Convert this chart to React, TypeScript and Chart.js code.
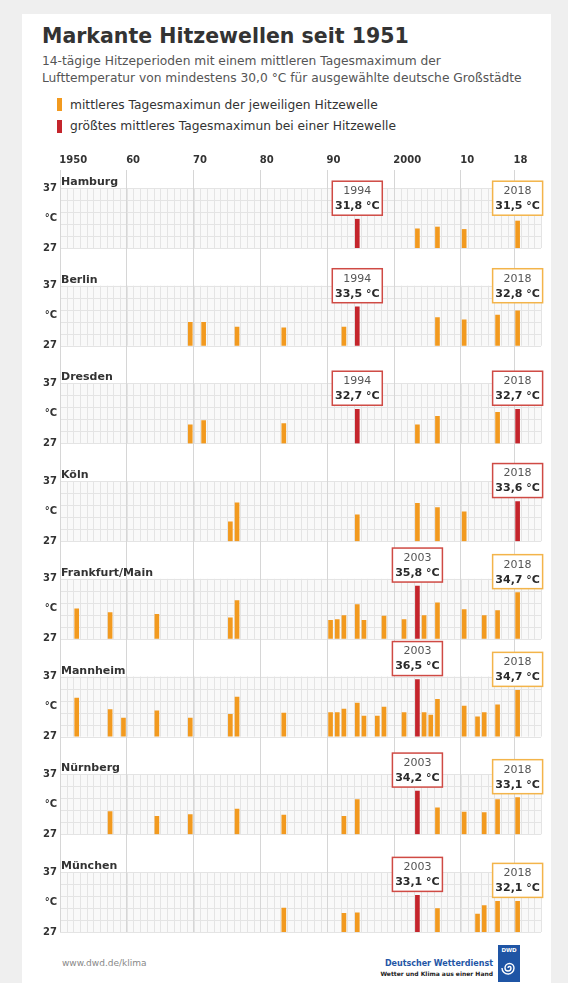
import React, { useEffect, useRef } from 'react';
import { Chart, registerables } from 'chart.js';

Chart.register(...registerables);

const FONT = '"DejaVu Sans", Verdana, sans-serif';
const ORANGE = '#f29a1f';
const RED = '#c4252c';
const BOX_ORANGE = '#f3b44a';
const BOX_RED = '#cf4a44';

// ---------- data ----------
const FIRST_YEAR = 1950;
const LAST_YEAR = 2021;
const tickYears = [1950, 1960, 1970, 1980, 1990, 2000, 2010, 2018];
const tickLabels = ['1950', '60', '70', '80', '90', '2000', '10', '18'];
const yTicks = [27, 32, 37];
const yTickLabels = ['27', '°C', '37'];
const bandLines = [27, 29, 31, 33, 35, 37];

const cityNames = ['Hamburg', 'Berlin', 'Dresden', 'Köln', 'Frankfurt/Main', 'Mannheim', 'Nürnberg', 'München'];

const hamburgYears = [1994, 2003, 2006, 2010, 2018];
const hamburgTemps = [31.8, 30.2, 30.5, 30.1, 31.5];
const berlinYears = [1969, 1971, 1976, 1983, 1992, 1994, 2006, 2010, 2015, 2018];
const berlinTemps = [30.9, 30.9, 30.1, 30.0, 30.1, 33.5, 31.7, 31.3, 32.1, 32.8];
const dresdenYears = [1969, 1971, 1983, 1994, 2003, 2006, 2015, 2018];
const dresdenTemps = [30.1, 30.8, 30.3, 32.7, 30.1, 31.5, 32.2, 32.7];
const koelnYears = [1975, 1976, 1994, 2003, 2006, 2010, 2018];
const koelnTemps = [30.2, 33.4, 31.4, 33.3, 32.6, 31.9, 33.6];
const frankfurtYears = [1952, 1957, 1964, 1975, 1976, 1990, 1991, 1992, 1994, 1995, 1998, 2001, 2003, 2004, 2006, 2010, 2013, 2015, 2018];
const frankfurtTemps = [32.0, 31.4, 31.1, 30.5, 33.4, 30.1, 30.2, 30.9, 32.7, 30.1, 30.8, 30.2, 35.8, 30.9, 33.0, 31.9, 30.9, 31.7, 34.7];
const mannheimYears = [1952, 1957, 1959, 1964, 1969, 1975, 1976, 1983, 1990, 1991, 1992, 1994, 1995, 1997, 1998, 2001, 2003, 2004, 2005, 2006, 2010, 2012, 2013, 2015, 2018];
const mannheimTemps = [33.4, 31.5, 30.1, 31.3, 30.1, 30.7, 33.6, 30.9, 31.0, 31.0, 31.6, 32.6, 30.4, 30.4, 31.9, 31.0, 36.5, 31.0, 30.6, 33.2, 32.1, 30.3, 31.0, 32.3, 34.7];
const nuernbergYears = [1957, 1964, 1969, 1976, 1983, 1992, 1994, 2003, 2006, 2010, 2013, 2015, 2018];
const nuernbergTemps = [30.8, 30.0, 30.3, 31.2, 30.2, 30.0, 32.8, 34.2, 31.4, 30.7, 30.6, 32.8, 33.1];
const muenchenYears = [1983, 1992, 1994, 2003, 2006, 2012, 2013, 2015, 2018];
const muenchenTemps = [31.0, 30.1, 30.2, 33.1, 30.9, 30.0, 31.4, 32.1, 32.1];

const cityYears = [hamburgYears, berlinYears, dresdenYears, koelnYears, frankfurtYears, mannheimYears, nuernbergYears, muenchenYears];
const cityTemps = [hamburgTemps, berlinTemps, dresdenTemps, koelnTemps, frankfurtTemps, mannheimTemps, nuernbergTemps, muenchenTemps];
const recordYears = [[1994], [1994], [1994, 2018], [2018], [2003], [2003], [2003], [2003]];
const CURRENT_YEAR = 2018;

// panel value ranges (top panel shares its space with the x axis)
const panelMax = [40, 43.28, 43.28, 43.28, 43.28, 43.28, 43.28, 43.28];

const yearLabels: string[] = [];
for (let y = FIRST_YEAR; y <= LAST_YEAR; y++) yearLabels.push(String(y));

const fmt = (v: number) => v.toFixed(1).replace('.', ',') + ' °C';

// ---------- plugins ----------
const bandPlugin = {
  id: 'bands',
  beforeDraw(chart: any) {
    const { ctx, chartArea } = chart;
    const xs = chart.scales.x;
    const n = yearLabels.length;
    const col = (chartArea.right - chartArea.left) / n;
    ctx.save();
    cityNames.forEach((_, i) => {
      const ys = chart.scales['y' + i];
      const top = ys.getPixelForValue(37);
      const bottom = ys.getPixelForValue(27);
      ctx.fillStyle = '#f9f9f9';
      ctx.fillRect(chartArea.left, top, chartArea.right - chartArea.left, bottom - top);
      ctx.strokeStyle = '#e4e4e4';
      ctx.lineWidth = 1;
      ctx.beginPath();
      for (let k = 0; k <= n; k++) {
        const x = Math.round(xs.getPixelForValue(k) - col / 2) + 0.5;
        ctx.moveTo(x, top);
        ctx.lineTo(x, bottom);
      }
      for (const v of bandLines) {
        const y = Math.round(ys.getPixelForValue(v)) + 0.5;
        ctx.moveTo(chartArea.left, y);
        ctx.lineTo(chartArea.right, y);
      }
      ctx.stroke();
    });
    ctx.restore();
  },
};

const annotationPlugin = {
  id: 'annotations',
  afterDatasetsDraw(chart: any) {
    const { ctx, chartArea } = chart;
    const xs = chart.scales.x;
    ctx.save();
    cityNames.forEach((name, i) => {
      const ys = chart.scales['y' + i];
      ctx.font = 'bold 11px ' + FONT;
      ctx.fillStyle = '#333';
      ctx.textAlign = 'left';
      ctx.textBaseline = 'alphabetic';
      ctx.fillText(name, chartArea.left + 1, ys.getPixelForValue(37) - 3);

      const years = cityYears[i];
      const temps = cityTemps[i];
      const boxYears = [...recordYears[i]];
      if (!boxYears.includes(CURRENT_YEAR)) boxYears.push(CURRENT_YEAR);
      const vals = boxYears.map((y) => temps[years.indexOf(y)]);
      const hi = Math.max(...vals);
      const lo = Math.min(...vals);
      boxYears.forEach((yr, k) => {
        const v = vals[k];
        const anchor = hi - lo < 1 ? hi : v;
        const isRecord = recordYears[i].includes(yr);
        const cx = xs.getPixelForValue(yearLabels.indexOf(String(yr)));
        const w = 50;
        const h = 34;
        const bottom = ys.getPixelForValue(anchor) - 4;
        const top = bottom - h;
        ctx.fillStyle = '#fff';
        ctx.fillRect(cx - w / 2, top, w, h);
        ctx.strokeStyle = isRecord ? BOX_RED : BOX_ORANGE;
        ctx.lineWidth = 1.5;
        ctx.strokeRect(cx - w / 2, top, w, h);
        ctx.textAlign = 'center';
        ctx.textBaseline = 'middle';
        ctx.fillStyle = '#555';
        ctx.font = '11px ' + FONT;
        ctx.fillText(String(yr), cx, top + 10);
        ctx.fillStyle = '#2a2a2a';
        ctx.font = 'bold 11px ' + FONT;
        ctx.fillText(fmt(v), cx, top + 25);
      });
    });
    ctx.restore();
  },
};

export default function App() {
  const ref = useRef<HTMLCanvasElement>(null);

  useEffect(() => {
    const canvas = ref.current;
    if (!canvas) return;

    const scales: any = {
      x: {
        type: 'category',
        position: 'top',
        labels: yearLabels,
        offset: true,
        grid: {
          offset: true,
          drawTicks: false,
          lineWidth: 1,
          color: (c: any) => {
            if (c.index === undefined || c.tick === undefined) return 'rgba(0,0,0,0)';
            return tickYears.includes(FIRST_YEAR + c.index) ? '#d6d6d6' : 'rgba(0,0,0,0)';
          },
        },
        border: { display: false },
        ticks: {
          autoSkip: false,
          maxRotation: 0,
          minRotation: 0,
          align: 'start',
          labelOffset: -4,
          padding: 4,
          color: '#333',
          font: { family: FONT, size: 10, weight: 'bold' },
          callback: (_v: any, idx: number) => {
            const k = tickYears.indexOf(FIRST_YEAR + idx);
            return k >= 0 ? tickLabels[k] : '';
          },
        },
        afterFit: (s: any) => {
          s.height = 20;
          s.paddingLeft = 0;
          s.paddingRight = 0;
        },
      },
    };

    cityNames.forEach((_, i) => {
      scales['y' + i] = {
        type: 'linear',
        position: 'left',
        stack: 'cities',
        stackWeight: panelMax[i] - 27,
        weight: cityNames.length - i,
        min: 27,
        max: panelMax[i],
        grid: { display: false, drawTicks: false },
        border: { display: false },
        afterBuildTicks: (s: any) => {
          s.ticks = yTicks.map((v) => ({ value: v }));
        },
        ticks: {
          padding: 3,
          color: '#333',
          font: { family: FONT, size: 10, weight: 'bold' },
          callback: (v: any) => {
            const k = yTicks.indexOf(Number(v));
            return k >= 0 ? yTickLabels[k] : '';
          },
        },
        afterFit: (s: any) => {
          s.width = 52;
          s.paddingTop = 0;
          s.paddingBottom = 0;
        },
      };
    });

    const datasets = cityNames.map((name, i) => ({
      label: name,
      type: 'bar',
      xAxisID: 'x',
      yAxisID: 'y' + i,
      grouped: false,
      barThickness: 4,
      borderWidth: 0,
      data: cityYears[i].map((yr, j) => ({ x: String(yr), y: [27, cityTemps[i][j]] })),
      backgroundColor: cityYears[i].map((yr) => (recordYears[i].includes(yr) ? RED : ORANGE)),
    }));

    const chart = new Chart(canvas, {
      type: 'bar',
      data: { labels: yearLabels, datasets } as any,
      options: {
        animation: false,
        responsive: false,
        devicePixelRatio: 1,
        layout: { padding: { left: 8, right: 27, top: 10, bottom: 13 } },
        plugins: { legend: { display: false }, tooltip: { enabled: false }, title: { display: false } },
        scales,
      } as any,
      plugins: [bandPlugin, annotationPlugin],
    });
    return () => chart.destroy();
  }, []);

  const abs = (s: React.CSSProperties): React.CSSProperties => ({ position: 'absolute', ...s });

  return (
    <div style={{ position: 'absolute', left: 0, top: 0, width: 568, height: 983, background: '#efefef', overflow: 'hidden', fontFamily: FONT }}>
      <div style={abs({ left: 22, top: 14, width: 529, height: 969, background: '#fff' })} />
      <div style={abs({ left: 42, top: 24, fontSize: 20.5, lineHeight: '24px', fontWeight: 'bold', color: '#333', whiteSpace: 'nowrap' })}>
        Markante Hitzewellen seit 1951
      </div>
      <div style={abs({ left: 42, top: 53, fontSize: 12.25, lineHeight: '16.5px', color: '#555', whiteSpace: 'nowrap' })}>
        14-tägige Hitzeperioden mit einem mittleren Tagesmaximum der
        <br />
        Lufttemperatur von mindestens 30,0 °C für ausgewählte deutsche Großstädte
      </div>
      <div style={abs({ left: 57, top: 98, width: 5, height: 13, background: ORANGE })} />
      <div style={abs({ left: 57, top: 120, width: 5, height: 13, background: RED })} />
      <div style={abs({ left: 70, top: 94.5, fontSize: 12.25, lineHeight: '21px', color: '#333', whiteSpace: 'nowrap' })}>
        mittleres Tagesmaximun der jeweiligen Hitzewelle
        <br />
        größtes mittleres Tagesmaximun bei einer Hitzewelle
      </div>
      <canvas ref={ref} width={568} height={805} style={abs({ left: 0, top: 140, width: 568, height: 805 })} />
      <div style={abs({ left: 62, top: 957, fontSize: 9, lineHeight: '12px', color: '#888', whiteSpace: 'nowrap' })}>www.dwd.de/klima</div>
      <div style={abs({ right: 75, top: 958, fontSize: 8, lineHeight: '11px', fontWeight: 'bold', color: '#2456a6', textAlign: 'right', whiteSpace: 'nowrap' })}>
        Deutscher Wetterdienst
      </div>
      <div style={abs({ right: 75, top: 970, fontSize: 6, lineHeight: '8px', fontWeight: 'bold', color: '#222', textAlign: 'right', whiteSpace: 'nowrap' })}>
        Wetter und Klima aus einer Hand
      </div>
      <svg style={abs({ left: 498, top: 945 })} width={22} height={37} viewBox="0 0 22 37">
        <rect x={0} y={0} width={22} height={37} fill="#1f55a5" />
        <text x={11} y={7} fontSize={5.5} fontWeight="bold" fill="#fff" textAnchor="middle" fontFamily={FONT}>DWD</text>
        <path d="M11 23 m-1 0 a1.5 1.5 0 1 1 3 0 a3 3 0 1 1 -6 0 a4.5 4.5 0 1 1 9 0 a6 6 0 1 1 -12 0" fill="none" stroke="#fff" strokeWidth={1.4} />
      </svg>
    </div>
  );
}
